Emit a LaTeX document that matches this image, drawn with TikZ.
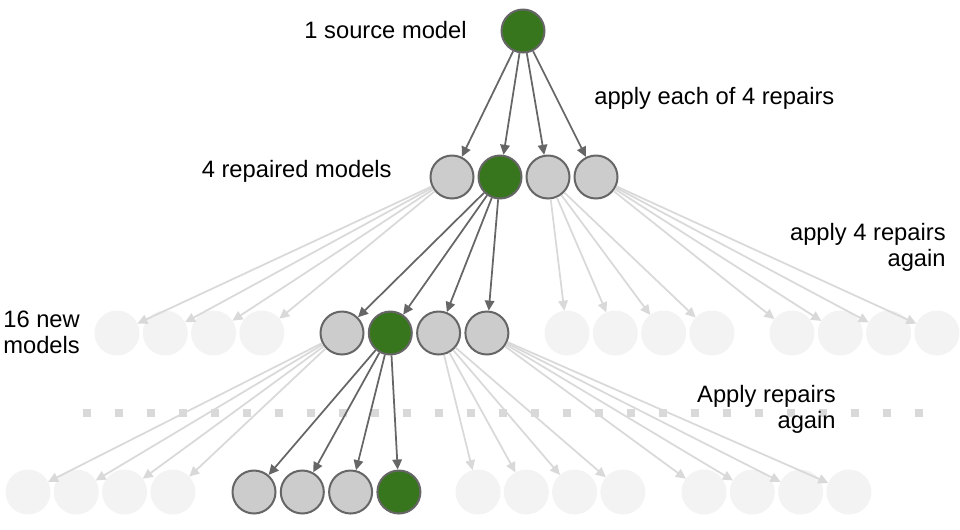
\documentclass[tikz,border=0pt]{standalone}
\usepackage{fontspec}
\setmainfont{Liberation Sans}
\usetikzlibrary{arrows.meta}

\definecolor{linedark}{HTML}{666666}
\definecolor{linelight}{HTML}{D9D9D9}
\definecolor{nodegray}{HTML}{CCCCCC}
\definecolor{nodegreen}{HTML}{38761D}
\definecolor{nodefade}{HTML}{F3F3F3}
\definecolor{dotgray}{HTML}{D9D9D9}

\tikzset{
  model/.style={circle, minimum size=0.86cm, inner sep=0pt, line width=0.04cm, draw=linedark, fill=nodegray},
  chosen/.style={model, fill=nodegreen},
  faded/.style={model, draw=nodefade, fill=nodefade},
  hot/.style={->, line width=0.035cm, draw=linedark},
  cold/.style={->, line width=0.035cm, draw=linelight},
  lbl/.style={inner sep=0pt, font=\fontsize{13.5pt}{14.6pt}\selectfont},
}

\begin{document}
\begin{tikzpicture}[x=0.02cm, y=-0.02cm, >={Triangle[length=0.2cm,width=0.19cm]}]
	\useasboundingbox (0,0) rectangle (960,529);

	% dotted separator
	\draw[dotgray, line width=0.17cm, dash pattern=on 0.17cm off 0.47cm] (83,413) -- (924,413);

	% source and first repairs
	\node[chosen] (src) at (523,31) {};
	\foreach \i/\x/\s in {1/452/model,2/500/chosen,3/548/model,4/596/model}
		\node[\s] (rep\i) at (\x,177) {};

	% 16 new models
	\foreach \g/\x in {a/117,c/567,d/792}
		\foreach \k in {1,...,4}
			\node[faded] (new\g\k) at (\x+48.3*\k-48.3,333) {};
	\foreach \k/\s in {1/model,2/chosen,3/model,4/model}
		\node[\s] (newb\k) at (342+48.3*\k-48.3,333) {};

	% next level
	\foreach \g/\x in {a/28,c/478,d/704}
		\foreach \k in {1,...,4}
			\node[faded] (next\g\k) at (\x+48.3*\k-48.3,492) {};
	\foreach \k/\s in {1/model,2/model,3/model,4/chosen}
		\node[\s] (nextb\k) at (254+48.3*\k-48.3,492) {};

	% faded connectors
	\foreach \g/\p in {a/1,c/3,d/4}
		\foreach \k in {1,...,4} {
			\draw[cold] (rep\p) -- (new\g\k);
			\draw[cold] (newb\p) -- (next\g\k);
		}

	% followed connectors
	\foreach \k in {1,...,4} {
		\draw[hot] (src) -- (rep\k);
		\draw[hot] (rep2) -- (newb\k);
		\draw[hot] (newb2) -- (nextb\k);
	}

	% labels
	\node[lbl, anchor=base east] (tsrc) at (467,38) {1 source model};
	\node[lbl, anchor=base west] (tapply) at (594,104) {apply each of 4 repairs};
	\node[lbl, anchor=base east] (trep) at (392,177) {4 repaired models};
	\node[lbl, anchor=base east, align=right] (tagain) at (946,266) {apply 4 repairs\\again};
	\node[lbl, anchor=base west, align=left] (tnew) at (3,353) {16 new\\models};
	\node[lbl, anchor=base east, align=right] (tmore) at (836,428) {Apply repairs\\again};
\end{tikzpicture}
\end{document}
